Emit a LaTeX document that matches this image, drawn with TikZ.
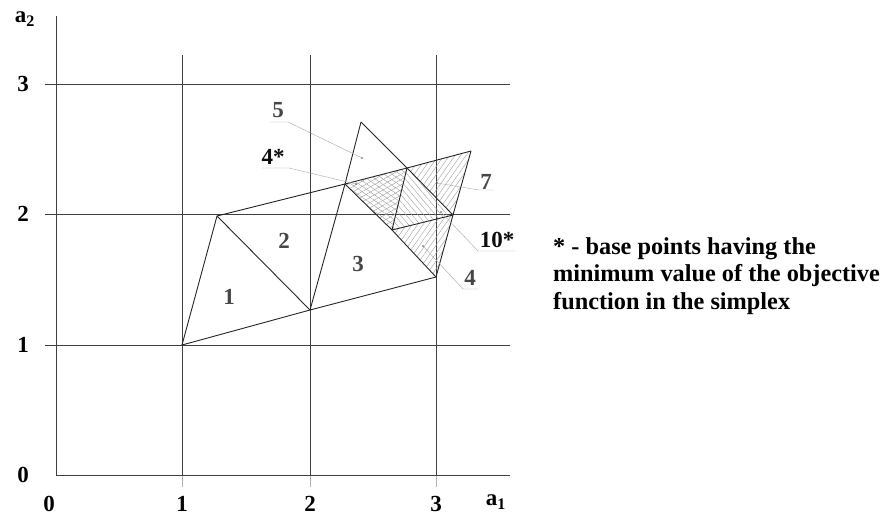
\documentclass[tikz,border=0pt]{standalone}
\usepackage{fontspec}
\setmainfont{Liberation Serif}
\usetikzlibrary{patterns.meta}
\begin{document}
\begin{tikzpicture}[x=1pt,y=-1pt,
  grid/.style={draw=black!75,line width=0.6pt},
  gridext/.style={draw=black!30,line width=0.6pt},
  edge/.style={draw=black!85,line width=0.9pt,line join=round},
  leader/.style={draw=black!35,line width=0.4pt},
  axnum/.style={font=\bfseries\fontsize{23}{25}\selectfont,text=black,inner sep=0pt},
  reglab/.style={font=\bfseries\fontsize{23}{25}\selectfont,text=black!72,inner sep=0pt},
  starlab/.style={font=\bfseries\fontsize{23}{25}\selectfont,text=black!95,inner sep=0pt},
  dotm/.style={fill=black!70,circle,inner sep=0pt,minimum size=1.6pt},
  hatchNE/.style={pattern={Lines[angle=55,distance=4.5pt,line width=0.4pt]},pattern color=black!38},
  hatchNW/.style={pattern={Lines[angle=-50,distance=4.5pt,line width=0.4pt]},pattern color=black!38},
  hatchX/.style={pattern={Lines[angle=30,distance=4.5pt,line width=0.4pt]},pattern color=black!38},
  hatchY/.style={pattern={Lines[angle=-35,distance=4.5pt,line width=0.4pt]},pattern color=black!38},
  note/.style={font=\bfseries\fontsize{24.3}{27.5}\selectfont,align=left,inner sep=0pt,anchor=west}
]
\useasboundingbox (0,0) rectangle (886,515);

% axes and grid
\coordinate (O) at (56,475);
\coordinate (ytop) at (56,16);
\coordinate (xend) at (510,475);
\foreach \yy in {84,214,345} {\draw[grid] (45,\yy) -- (510,\yy);}
\foreach \xx in {182,310,436} {
  \draw[grid] (\xx,55) -- (\xx,475);
  \draw[gridext] (\xx,475) -- (\xx,487);
}
\draw[grid] (ytop) -- (O) -- (xend);

% simplex vertices
\coordinate (A) at (182,345);
\coordinate (B) at (217,216);
\coordinate (C) at (310,310);
\coordinate (D) at (345,184);
\coordinate (E) at (436,277);
\coordinate (F) at (361,122);
\coordinate (G) at (407,168);
\coordinate (H) at (453,215);
\coordinate (K) at (392,230);
\coordinate (L) at (471,151);

% hatching
\fill[hatchX] (D) -- (G) -- (K) -- cycle;
\fill[hatchY] (D) -- (G) -- (K) -- cycle;
\fill[hatchNW] (G) -- (H) -- (K) -- cycle;
\fill[hatchNE] (G) -- (L) -- (H) -- cycle;
\fill[hatchNE] (K) -- (H) -- (E) -- cycle;

% edges
\draw[edge] (A) -- (B) -- (C);
\draw[edge] (A) -- (C) -- (E);
\draw[edge] (B) -- (D) -- (G) -- (L);
\draw[edge] (C) -- (D) -- (F);
\draw[edge] (F) -- (G) -- (H);
\draw[edge] (D) -- (K) -- (E);
\draw[edge] (G) -- (K) -- (H);
\draw[edge] (L) -- (H) -- (E);

% axis labels
\node[axnum] (la2) at (25,19) {a\textsubscript{2}};
\node[axnum] (ly3) at (23,84) {3};
\node[axnum] (ly2) at (23,214) {2};
\node[axnum] (ly1) at (23,345) {1};
\node[axnum] (ly0) at (23,475) {0};
\node[axnum] (lx0) at (49,504) {0};
\node[axnum] (lx1) at (182,504) {1};
\node[axnum] (lx2) at (310,504) {2};
\node[axnum] (lx3) at (436,504) {3};
\node[axnum] (la1) at (496,502) {a\textsubscript{1}};

% region labels
\node[reglab] (r1) at (229,297) {1};
\node[reglab] (r2) at (284,241) {2};
\node[reglab] (r3) at (358,264) {3};

% leader dots
\node[dotm] (d5) at (362,158) {};
\node[dotm] (d4s) at (356,184) {};
\node[dotm] (d7) at (437,183) {};
\node[dotm] (d10) at (441,212) {};
\node[dotm] (d4) at (423,246) {};

% leader labels
\node[reglab] (t5) at (278,110) {5};
\coordinate (u5a) at (270,122); \coordinate (u5b) at (288,122);
\draw[leader] (u5a) -- (u5b) -- (d5);

\node[starlab] (t4s) at (273,157) {4*};
\coordinate (u4sa) at (262,168); \coordinate (u4sb) at (289,168);
\draw[leader] (u4sa) -- (u4sb) -- (d4s);

\node[reglab] (t7) at (486,182) {7};
\coordinate (u7a) at (494,190); \coordinate (u7b) at (479,190);
\draw[leader] (u7a) -- (u7b) -- (d7);

\node[starlab] (t10) at (497,240) {10*};
\coordinate (u10a) at (515,251); \coordinate (u10b) at (478,251);
\draw[leader] (u10a) -- (u10b) -- (d10);

\node[reglab] (t4) at (470,278) {4};
\coordinate (u4a) at (478,289); \coordinate (u4b) at (463,289);
\draw[leader] (u4a) -- (u4b) -- (d4);

% note
\node[note] (nt) at (553,276) {* - base points having the\\minimum value of the objective\\function in the simplex};
\end{tikzpicture}
\end{document}
